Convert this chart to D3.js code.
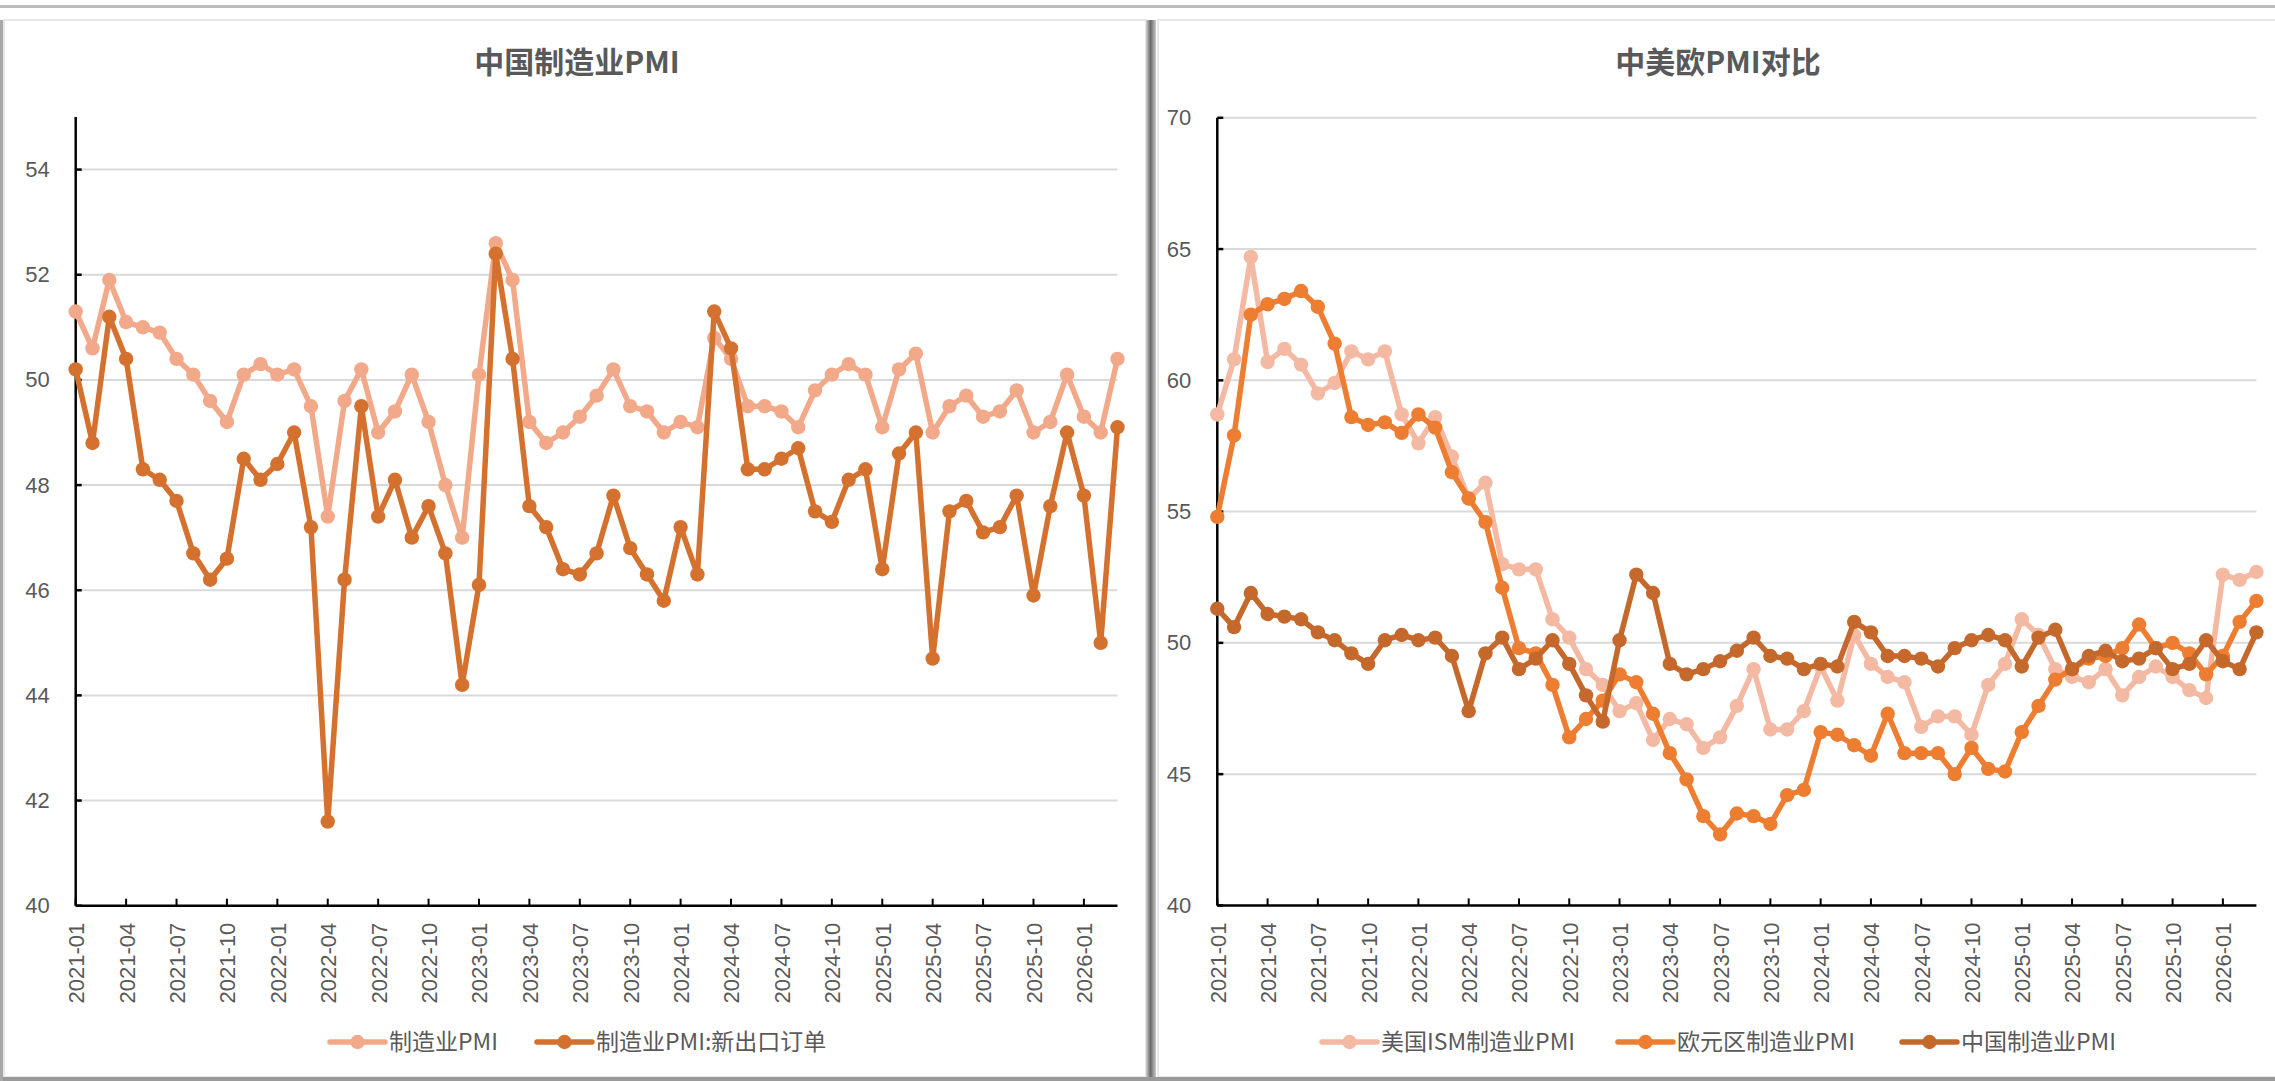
<!DOCTYPE html>
<html>
<head>
<meta charset="utf-8">
<script src="https://cdn.jsdelivr.net/npm/d3@7"></script>
<style>
  html, body { margin: 0; padding: 0; background: #ffffff; }
  svg { display: block; }
</style>
</head>
<body>
<svg id="chart" width="2275" height="1081"></svg>
<script>
// ---------------- DATA ----------------
const months = [
  "2021-01","2021-02","2021-03","2021-04","2021-05","2021-06","2021-07","2021-08","2021-09","2021-10","2021-11","2021-12",
  "2022-01","2022-02","2022-03","2022-04","2022-05","2022-06","2022-07","2022-08","2022-09","2022-10","2022-11","2022-12",
  "2023-01","2023-02","2023-03","2023-04","2023-05","2023-06","2023-07","2023-08","2023-09","2023-10","2023-11","2023-12",
  "2024-01","2024-02","2024-03","2024-04","2024-05","2024-06","2024-07","2024-08","2024-09","2024-10","2024-11","2024-12",
  "2025-01","2025-02","2025-03","2025-04","2025-05","2025-06","2025-07","2025-08","2025-09","2025-10","2025-11","2025-12",
  "2026-01","2026-02","2026-03"
];
const tickLabels = [
  "2021-01","2021-04","2021-07","2021-10","2022-01","2022-04","2022-07","2022-10",
  "2023-01","2023-04","2023-07","2023-10","2024-01","2024-04","2024-07","2024-10",
  "2025-01","2025-04","2025-07","2025-10","2026-01"
];
// China manufacturing PMI
const chinaPMI = [
  51.3,50.6,51.9,51.1,51.0,50.9,50.4,50.1,49.6,49.2,50.1,50.3,
  50.1,50.2,49.5,47.4,49.6,50.2,49.0,49.4,50.1,49.2,48.0,47.0,
  50.1,52.6,51.9,49.2,48.8,49.0,49.3,49.7,50.2,49.5,49.4,49.0,
  49.2,49.1,50.8,50.4,49.5,49.5,49.4,49.1,49.8,50.1,50.3,50.1,
  49.1,50.2,50.5,49.0,49.5,49.7,49.3,49.4,49.8,49.0,49.2,50.1,
  49.3,49.0,50.4
];
// China PMI: new export orders
const chinaExport = [
  50.2,48.8,51.2,50.4,48.3,48.1,47.7,46.7,46.2,46.6,48.5,48.1,
  48.4,49.0,47.2,41.6,46.2,49.5,47.4,48.1,47.0,47.6,46.7,44.2,
  46.1,52.4,50.4,47.6,47.2,46.4,46.3,46.7,47.8,46.8,46.3,45.8,
  47.2,46.3,51.3,50.6,48.3,48.3,48.5,48.7,47.5,47.3,48.1,48.3,
  46.4,48.6,49.0,44.7,47.5,47.7,47.1,47.2,47.8,45.9,47.6,49.0,
  47.8,45.0,49.1
];
// US ISM manufacturing PMI
const usISM = [
  58.7,60.8,64.7,60.7,61.2,60.6,59.5,59.9,61.1,60.8,61.1,58.7,
  57.6,58.6,57.1,55.5,56.1,53.0,52.8,52.8,50.9,50.2,49.0,48.4,
  47.4,47.7,46.3,47.1,46.9,46.0,46.4,47.6,49.0,46.7,46.7,47.4,
  49.1,47.8,50.3,49.2,48.7,48.5,46.8,47.2,47.2,46.5,48.4,49.2,
  50.9,50.3,49.0,48.7,48.5,49.0,48.0,48.7,49.1,48.7,48.2,47.9,
  52.6,52.4,52.7
];
// Eurozone manufacturing PMI
const euroPMI = [
  54.8,57.9,62.5,62.9,63.1,63.4,62.8,61.4,58.6,58.3,58.4,58.0,
  58.7,58.2,56.5,55.5,54.6,52.1,49.8,49.6,48.4,46.4,47.1,47.8,
  48.8,48.5,47.3,45.8,44.8,43.4,42.7,43.5,43.4,43.1,44.2,44.4,
  46.6,46.5,46.1,45.7,47.3,45.8,45.8,45.8,45.0,46.0,45.2,45.1,
  46.6,47.6,48.6,49.0,49.4,49.5,49.8,50.7,49.8,50.0,49.6,48.8,
  49.5,50.8,51.6
];
const leftTicks = [40,42,44,46,48,50,52,54];
const rightTicks = [40,45,50,55,60,65,70];

const leftTitle = "中国制造业PMI";
const rightTitle = "中美欧PMI对比";
const leftSeries = [
  {name: "制造业PMI", values: chinaPMI, color: "#F1A98A"},
  {name: "制造业PMI:新出口订单", values: chinaExport, color: "#D4712E"}
];
const rightSeries = [
  {name: "美国ISM制造业PMI", values: usISM, color: "#F4B9A3"},
  {name: "欧元区制造业PMI", values: euroPMI, color: "#ED7D31"},
  {name: "中国制造业PMI", values: chinaPMI, color: "#C5682C"}
];

// ---------------- DRAW ----------------
const svg = d3.select("#chart");
const TXT = "#595959";
const CJK = "'Noto Sans CJK SC', 'Noto Sans', sans-serif";
const LAT = "'Liberation Sans', Arial, sans-serif";

// frame decorations
svg.append("rect").attr("x",0).attr("y",0).attr("width",2275).attr("height",1081).attr("fill","#ffffff");
svg.append("rect").attr("x",0).attr("y",5).attr("width",2275).attr("height",3).attr("fill","#BDBDBD");
svg.append("rect").attr("x",4).attr("y",20).attr("width",1142).attr("height",1057)
   .attr("fill","#ffffff").attr("stroke","#E0E0E0").attr("stroke-width",1.5);
svg.append("rect").attr("x",1158).attr("y",20).attr("width",1120).attr("height",1057)
   .attr("fill","#ffffff").attr("stroke","#E0E0E0").attr("stroke-width",1.5);
const defs = svg.append("defs");
const g1 = defs.append("linearGradient").attr("id","sep").attr("x1","0").attr("x2","1");
g1.append("stop").attr("offset","0").attr("stop-color","#D0D0D0");
g1.append("stop").attr("offset","0.45").attr("stop-color","#6A6A6A");
g1.append("stop").attr("offset","1").attr("stop-color","#C8C8C8");
svg.append("rect").attr("x",1146).attr("y",20).attr("width",10).attr("height",1061).attr("fill","url(#sep)");
svg.append("rect").attr("x",0).attr("y",1077).attr("width",2275).attr("height",4).attr("fill","#9A9A9A");
svg.append("rect").attr("x",0).attr("y",20).attr("width",3).attr("height",1061).attr("fill","#A8A8A8");

function drawPanel(opt) {
  const g = svg.append("g");
  const x = d3.scaleLinear().domain([0, months.length - 1]).range([opt.x0, opt.x1]);
  const y = d3.scaleLinear().domain(opt.yDomain).range([opt.yBottom, opt.yTop]);

  // title
  g.append("text").attr("x", opt.titleX).attr("y", 73).attr("text-anchor","middle")
    .attr("font-family", CJK).attr("font-size", 30).attr("font-weight", 700)
    .attr("fill", TXT).text(opt.title);

  // gridlines
  g.append("g").selectAll("line").data(opt.ticks.filter(t => t > opt.yDomain[0])).join("line")
    .attr("x1", opt.x0).attr("x2", opt.x1)
    .attr("y1", d => y(d)).attr("y2", d => y(d))
    .attr("stroke", "#D9D9D9").attr("stroke-width", 2);

  // y axis
  const yAxis = d3.axisLeft(y).tickValues(opt.ticks).tickSize(0).tickPadding(26).tickFormat(d3.format("d"));
  const ya = g.append("g").attr("transform", `translate(${opt.x0},0)`).call(yAxis);
  ya.select(".domain").remove();
  ya.selectAll("text").attr("font-family", LAT).attr("font-size", 22).attr("fill", TXT);
  g.append("line").attr("x1", opt.x0).attr("x2", opt.x0).attr("y1", opt.yTop).attr("y2", opt.yBottom)
    .attr("stroke", "#000").attr("stroke-width", 2.5);
  g.append("g").selectAll("line").data(opt.ticks).join("line")
    .attr("x1", opt.x0).attr("x2", opt.x0 + 6).attr("y1", d => y(d)).attr("y2", d => y(d))
    .attr("stroke", "#000").attr("stroke-width", 2.5);

  // x axis
  const tickIdx = tickLabels.map(l => months.indexOf(l));
  const xAxis = d3.axisBottom(x).tickValues(tickIdx).tickSize(0).tickFormat(i => months[i]);
  const xa = g.append("g").attr("transform", `translate(0,${opt.yBottom})`).call(xAxis);
  xa.select(".domain").remove();
  xa.selectAll("text")
    .attr("font-family", LAT).attr("font-size", 22).attr("fill", TXT)
    .attr("transform", "rotate(-90)")
    .attr("text-anchor", "end")
    .attr("x", -17).attr("y", 0).attr("dy", "0.36em");
  g.append("line").attr("x1", opt.x0).attr("x2", opt.x1).attr("y1", opt.yBottom).attr("y2", opt.yBottom)
    .attr("stroke", "#000").attr("stroke-width", 2.5);
  g.append("g").selectAll("line").data(tickIdx).join("line")
    .attr("x1", d => x(d)).attr("x2", d => x(d)).attr("y1", opt.yBottom).attr("y2", opt.yBottom - 7)
    .attr("stroke", "#000").attr("stroke-width", 2);

  // series
  const line = d3.line().x((d, i) => x(i)).y(d => y(d));
  opt.series.forEach(s => {
    const sg = g.append("g");
    sg.append("path").datum(s.values).attr("d", line)
      .attr("fill", "none").attr("stroke", s.color).attr("stroke-width", 5.5)
      .attr("stroke-linejoin", "round");
    sg.selectAll("circle").data(s.values).join("circle")
      .attr("cx", (d, i) => x(i)).attr("cy", d => y(d)).attr("r", 7.2)
      .attr("fill", s.color);
  });

  // legend
  const lg = g.append("g");
  opt.series.forEach((s, k) => {
    const lx = opt.legendX[k];
    const ly = 1042;
    lg.append("line").attr("x1", lx).attr("x2", lx + 55).attr("y1", ly).attr("y2", ly)
      .attr("stroke", s.color).attr("stroke-width", 5.5).attr("stroke-linecap","round");
    lg.append("circle").attr("cx", lx + 27.5).attr("cy", ly).attr("r", 7.2).attr("fill", s.color);
    lg.append("text").attr("x", lx + 59).attr("y", ly).attr("dy", "0.36em")
      .attr("font-family", CJK).attr("font-size", 23).attr("fill", TXT).text(s.name);
  });
}

drawPanel({
  title: leftTitle, titleX: 577,
  x0: 75.7, x1: 1117.5, yTop: 117, yBottom: 905.7, yDomain: [40, 55],
  ticks: leftTicks, series: leftSeries, legendX: [330, 537]
});
drawPanel({
  title: rightTitle, titleX: 1718,
  x0: 1217.3, x1: 2256.4, yTop: 117.8, yBottom: 905.4, yDomain: [40, 70],
  ticks: rightTicks, series: rightSeries, legendX: [1322, 1618, 1902]
});
</script>
</body>
</html>
